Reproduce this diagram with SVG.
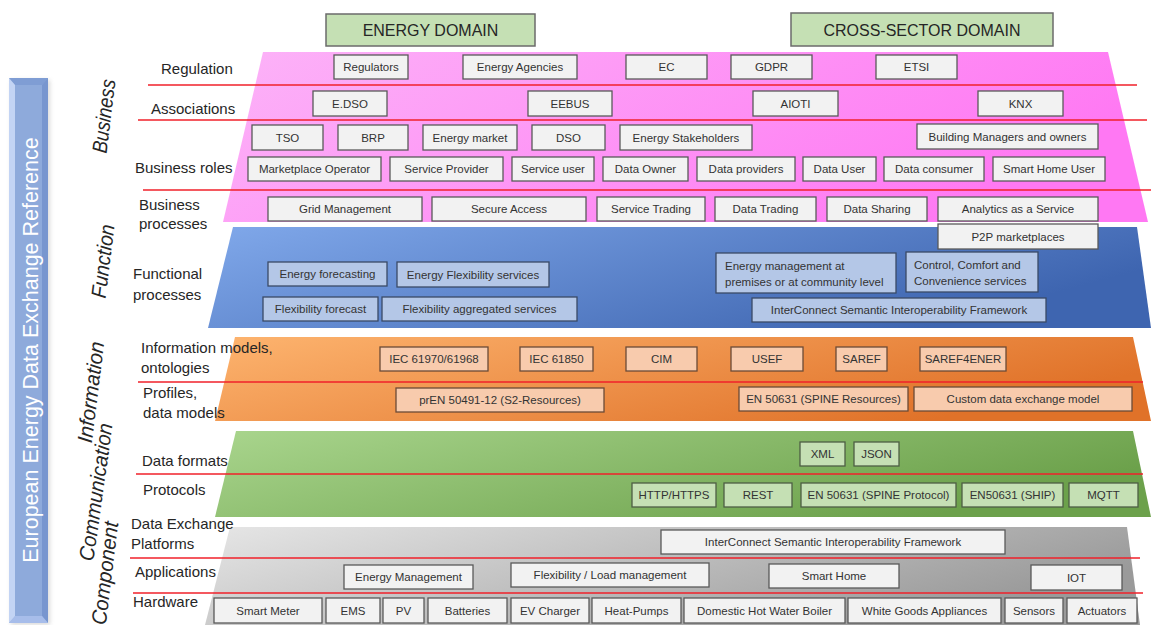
<svg xmlns="http://www.w3.org/2000/svg" width="1151" height="625" viewBox="0 0 1151 625">
  <style>
    text { font-family: "Liberation Sans", Arial, sans-serif; fill: #262626; }
    .hdr { font-size: 16px; text-anchor: middle; }
    .row { font-size: 15px; }
    .vl { font-size: 21px; font-style: italic; text-anchor: middle; }
    .bt { font-size: 11.5px; text-anchor: middle; fill: #333; }
    .btl { font-size: 11.5px; fill: #333; }
    .box rect { stroke: #595959; stroke-width: 1.3; }
    .gray rect { fill: #f2f2f2; }
    .blue rect { fill: #b4c7e7; stroke: #3a4a66; }
    .orange rect { fill: #f8cbad; stroke: #6b4a36; }
    .green rect { fill: #c5e0b4; stroke: #4d5e44; }
    .sep line { stroke: #f0202a; stroke-width: 1.6; }
  </style>
  <defs>
    <linearGradient id="gPink" x1="0" y1="0" x2="1" y2="0.3">
      <stop offset="0" stop-color="#fcb3f8"/>
      <stop offset="1" stop-color="#ff78f3"/>
    </linearGradient>
    <linearGradient id="gBlue" x1="0" y1="0" x2="1" y2="0.4">
      <stop offset="0" stop-color="#80a8ea"/>
      <stop offset="1" stop-color="#3e65b0"/>
    </linearGradient>
    <linearGradient id="gOrange" x1="0" y1="0" x2="1" y2="0.4">
      <stop offset="0" stop-color="#fdb46f"/>
      <stop offset="1" stop-color="#e07229"/>
    </linearGradient>
    <linearGradient id="gGreen" x1="0" y1="0" x2="1" y2="0.4">
      <stop offset="0" stop-color="#a9d58d"/>
      <stop offset="1" stop-color="#6ca14b"/>
    </linearGradient>
    <linearGradient id="gGray" x1="0" y1="0" x2="1" y2="0.4">
      <stop offset="0" stop-color="#e6e6e6"/>
      <stop offset="1" stop-color="#9a9a9a"/>
    </linearGradient>
    <filter id="soft" x="-20%" y="-5%" width="140%" height="110%">
      <feGaussianBlur stdDeviation="2"/>
    </filter>
  </defs>

  <!-- side title bar -->
  <g id="side-title">
    <rect x="11" y="80" width="39" height="545" fill="#999" opacity="0.35" filter="url(#soft)"/>
    <rect x="9" y="78" width="39" height="545" fill="#8eaadb"/>
    <polygon points="9,78 48,78 42,85 15,85" fill="#7f9dd4"/>
    <polygon points="48,78 48,623 42,616 42,85" fill="#7896cf"/>
    <polygon points="9,623 48,623 42,616 15,616" fill="#a7bdea"/>
    <polygon points="9,78 15,85 15,616 9,623" fill="#c3d4f4"/>
    <text transform="translate(37.5,350) rotate(-90)" text-anchor="middle" style="font-size:21.5px;fill:#ffffff">European Energy Data Exchange Reference</text>
  </g>

  <!-- domain headers -->
  <g id="energy-domain">
    <rect x="326" y="14" width="209" height="32" fill="#c5e0b4" stroke="#6b6b6b" stroke-width="1.5"/>
    <text class="hdr" x="430.5" y="36">ENERGY DOMAIN</text>
  </g>
  <g id="cross-sector-domain">
    <rect x="791" y="13" width="262" height="33" fill="#c5e0b4" stroke="#6b6b6b" stroke-width="1.5"/>
    <text class="hdr" x="922" y="36">CROSS-SECTOR DOMAIN</text>
  </g>

  <!-- layer bands -->
  <g id="bands">
    <polygon id="band-business" points="263,52 1108,52 1148,222 223,222" fill="url(#gPink)"/>
    <polygon id="band-function" points="233,227 1137,227 1151,328 208,328" fill="url(#gBlue)"/>
    <polygon id="band-information" points="235,337 1133,337 1151,421 215,421" fill="url(#gOrange)"/>
    <polygon id="band-communication" points="236,431 1133,431 1151,517 215,517" fill="url(#gGreen)"/>
    <polygon id="band-component" points="230,527 1127,527 1140,625 205,625" fill="url(#gGray)"/>
  </g>

  <!-- row separators -->
  <g id="connectors" class="sep">
    <line x1="148" y1="85" x2="1137" y2="85"/>
    <line x1="138" y1="120" x2="1147" y2="120"/>
    <line x1="143" y1="190" x2="1151" y2="190"/>
    <line x1="138" y1="382" x2="1143" y2="382"/>
    <line x1="136" y1="474" x2="1143" y2="474"/>
    <line x1="130" y1="558" x2="1140" y2="558"/>
    <line x1="133" y1="593" x2="1143" y2="593"/>
  </g>

  <!-- layer names, slightly tilted -->
  <g id="layer-names">
    <text class="vl" transform="translate(111,117) rotate(-83)" textLength="74" lengthAdjust="spacingAndGlyphs">Business</text>
    <text class="vl" transform="translate(110,262) rotate(-83)" textLength="74" lengthAdjust="spacingAndGlyphs">Function</text>
    <text class="vl" transform="translate(98,393) rotate(-83)" textLength="102" lengthAdjust="spacingAndGlyphs">Information</text>
    <text class="vl" transform="translate(103,493) rotate(-82)" textLength="139" lengthAdjust="spacingAndGlyphs">Communication</text>
    <text class="vl" transform="translate(112,574) rotate(-83)" textLength="104" lengthAdjust="spacingAndGlyphs">Component</text>
  </g>

  <!-- row names -->
  <g id="row-names" class="row">
    <text x="161" y="74">Regulation</text>
    <text x="151" y="114">Associations</text>
    <text x="135" y="173">Business roles</text>
    <text x="139" y="210">Business</text>
    <text x="139" y="229">processes</text>
    <text x="133" y="279">Functional</text>
    <text x="133" y="300">processes</text>
    <text x="141" y="353">Information models,</text>
    <text x="141" y="373">ontologies</text>
    <text x="143" y="398">Profiles,</text>
    <text x="143" y="418">data models</text>
    <text x="142" y="466">Data formats</text>
    <text x="143" y="495">Protocols</text>
    <text x="131" y="529">Data Exchange</text>
    <text x="131" y="549">Platforms</text>
    <text x="135" y="577">Applications</text>
    <text x="133" y="607">Hardware</text>
  </g>

  <!-- business layer -->
  <g class="box gray">
    <g id="regulators"><rect x="334" y="55" width="74" height="24"/><text class="bt" x="371" y="71">Regulators</text></g>
    <g id="energy-agencies"><rect x="463" y="55" width="114" height="24"/><text class="bt" x="520" y="71">Energy Agencies</text></g>
    <g id="ec"><rect x="626" y="55" width="81" height="24"/><text class="bt" x="666.5" y="71">EC</text></g>
    <g id="gdpr"><rect x="731" y="55" width="81" height="24"/><text class="bt" x="771.5" y="71">GDPR</text></g>
    <g id="etsi"><rect x="876" y="55" width="81" height="24"/><text class="bt" x="916.5" y="71">ETSI</text></g>
    <g id="edso"><rect x="313" y="91" width="74" height="25"/><text class="bt" x="350" y="107.5">E.DSO</text></g>
    <g id="eebus"><rect x="528" y="91" width="84" height="25"/><text class="bt" x="570" y="107.5">EEBUS</text></g>
    <g id="aioti"><rect x="753" y="91" width="85" height="25"/><text class="bt" x="795.5" y="107.5">AIOTI</text></g>
    <g id="knx"><rect x="978" y="91" width="85" height="25"/><text class="bt" x="1020.5" y="107.5">KNX</text></g>
    <g id="tso"><rect x="252" y="125" width="71" height="25"/><text class="bt" x="287.5" y="141.5">TSO</text></g>
    <g id="brp"><rect x="338" y="125" width="70" height="25"/><text class="bt" x="373" y="141.5">BRP</text></g>
    <g id="energy-market"><rect x="423" y="125" width="94" height="25"/><text class="bt" x="470" y="141.5">Energy market</text></g>
    <g id="dso"><rect x="532" y="125" width="73" height="25"/><text class="bt" x="568.5" y="141.5">DSO</text></g>
    <g id="energy-stakeholders"><rect x="620" y="125" width="132" height="25"/><text class="bt" x="686" y="141.5">Energy Stakeholders</text></g>
    <g id="building-managers"><rect x="917" y="124" width="181" height="25"/><text class="bt" x="1007.5" y="140.5">Building Managers and owners</text></g>
    <g id="marketplace-operator"><rect x="248" y="157" width="133" height="24"/><text class="bt" x="314.5" y="173">Marketplace Operator</text></g>
    <g id="service-provider"><rect x="390" y="157" width="113" height="24"/><text class="bt" x="446.5" y="173">Service Provider</text></g>
    <g id="service-user"><rect x="512" y="157" width="82" height="24"/><text class="bt" x="553" y="173">Service user</text></g>
    <g id="data-owner"><rect x="603" y="157" width="85" height="24"/><text class="bt" x="645.5" y="173">Data Owner</text></g>
    <g id="data-providers"><rect x="697" y="157" width="98" height="24"/><text class="bt" x="746" y="173">Data providers</text></g>
    <g id="data-user"><rect x="803" y="157" width="73" height="24"/><text class="bt" x="839.5" y="173">Data User</text></g>
    <g id="data-consumer"><rect x="884" y="157" width="100" height="24"/><text class="bt" x="934" y="173">Data consumer</text></g>
    <g id="smart-home-user"><rect x="993" y="157" width="112" height="24"/><text class="bt" x="1049" y="173">Smart Home User</text></g>
    <g id="grid-management"><rect x="268" y="197" width="154" height="24"/><text class="bt" x="345" y="213">Grid Management</text></g>
    <g id="secure-access"><rect x="432" y="197" width="154" height="24"/><text class="bt" x="509" y="213">Secure Access</text></g>
    <g id="service-trading"><rect x="597" y="197" width="108" height="24"/><text class="bt" x="651" y="213">Service Trading</text></g>
    <g id="data-trading"><rect x="715" y="197" width="101" height="24"/><text class="bt" x="765.5" y="213">Data Trading</text></g>
    <g id="data-sharing"><rect x="827" y="197" width="100" height="24"/><text class="bt" x="877" y="213">Data Sharing</text></g>
    <g id="analytics-service"><rect x="938" y="197" width="160" height="24"/><text class="bt" x="1018" y="213">Analytics as a Service</text></g>
    <g id="p2p-marketplaces"><rect x="938" y="224" width="160" height="25"/><text class="bt" x="1018" y="240.5">P2P marketplaces</text></g>
  </g>

  <!-- function layer -->
  <g class="box blue">
    <g id="energy-forecasting"><rect x="268" y="262" width="119" height="24"/><text class="bt" x="327.5" y="278">Energy forecasting</text></g>
    <g id="energy-flexibility-services"><rect x="397" y="262" width="152" height="25"/><text class="bt" x="473" y="278.5">Energy Flexibility services</text></g>
    <g id="flexibility-forecast"><rect x="263" y="297" width="115" height="24"/><text class="bt" x="320.5" y="313">Flexibility forecast</text></g>
    <g id="flexibility-aggregated"><rect x="382" y="297" width="195" height="24"/><text class="bt" x="479.5" y="313">Flexibility aggregated services</text></g>
    <g id="energy-management-premises"><rect x="716" y="253" width="180" height="40"/><text class="btl" x="725" y="270">Energy management at</text><text class="btl" x="725" y="286">premises or at community level</text></g>
    <g id="control-comfort"><rect x="906" y="252" width="132" height="40"/><text class="btl" x="914" y="269">Control, Comfort and</text><text class="btl" x="914" y="285">Convenience services</text></g>
    <g id="interconnect-function"><rect x="752" y="298" width="294" height="24"/><text class="bt" x="899" y="314">InterConnect Semantic Interoperability Framework</text></g>
  </g>

  <!-- information layer -->
  <g class="box orange">
    <g id="iec-61970"><rect x="380" y="347" width="108" height="24"/><text class="bt" x="434" y="363">IEC 61970/61968</text></g>
    <g id="iec-61850"><rect x="520" y="347" width="73" height="24"/><text class="bt" x="556.5" y="363">IEC 61850</text></g>
    <g id="cim"><rect x="626" y="347" width="71" height="24"/><text class="bt" x="661.5" y="363">CIM</text></g>
    <g id="usef"><rect x="731" y="347" width="72" height="24"/><text class="bt" x="767" y="363">USEF</text></g>
    <g id="saref"><rect x="836" y="347" width="51" height="24"/><text class="bt" x="861.5" y="363">SAREF</text></g>
    <g id="saref4ener"><rect x="920" y="347" width="86" height="24"/><text class="bt" x="963" y="363">SAREF4ENER</text></g>
    <g id="pren-50491"><rect x="396" y="388" width="208" height="24"/><text class="bt" x="500" y="404">prEN 50491-12 (S2-Resources)</text></g>
    <g id="en-50631-resources"><rect x="739" y="387" width="169" height="24"/><text class="bt" x="823.5" y="403">EN 50631 (SPINE Resources)</text></g>
    <g id="custom-model"><rect x="914" y="387" width="218" height="24"/><text class="bt" x="1023" y="403">Custom data exchange model</text></g>
  </g>

  <!-- communication layer -->
  <g class="box green">
    <g id="xml"><rect x="800" y="442" width="45" height="24"/><text class="bt" x="822.5" y="458">XML</text></g>
    <g id="json"><rect x="854" y="442" width="45" height="24"/><text class="bt" x="876.5" y="458">JSON</text></g>
    <g id="http"><rect x="632" y="483" width="84" height="24"/><text class="bt" x="674" y="499">HTTP/HTTPS</text></g>
    <g id="rest"><rect x="724" y="483" width="68" height="24"/><text class="bt" x="758" y="499">REST</text></g>
    <g id="spine-protocol"><rect x="801" y="483" width="155" height="24"/><text class="bt" x="878.5" y="499">EN 50631 (SPINE Protocol)</text></g>
    <g id="ship"><rect x="962" y="483" width="101" height="24"/><text class="bt" x="1012.5" y="499">EN50631 (SHIP)</text></g>
    <g id="mqtt"><rect x="1069" y="483" width="69" height="24"/><text class="bt" x="1103.5" y="499">MQTT</text></g>
  </g>

  <!-- component layer -->
  <g class="box gray">
    <g id="interconnect-platform"><rect x="661" y="530" width="344" height="24"/><text class="bt" x="833" y="546">InterConnect Semantic Interoperability Framework</text></g>
    <g id="energy-management-app"><rect x="344" y="565" width="129" height="24"/><text class="bt" x="408.5" y="581">Energy Management</text></g>
    <g id="flexibility-load"><rect x="511" y="563" width="198" height="24"/><text class="bt" x="610" y="579">Flexibility / Load management</text></g>
    <g id="smart-home"><rect x="769" y="564" width="130" height="24"/><text class="bt" x="834" y="580">Smart Home</text></g>
    <g id="iot"><rect x="1031" y="565" width="91" height="25"/><text class="bt" x="1076.5" y="581.5">IOT</text></g>
    <g id="smart-meter"><rect x="214" y="598" width="108" height="25"/><text class="bt" x="268" y="614.5">Smart Meter</text></g>
    <g id="ems"><rect x="326" y="598" width="54" height="25"/><text class="bt" x="353" y="614.5">EMS</text></g>
    <g id="pv"><rect x="383" y="598" width="41" height="25"/><text class="bt" x="403.5" y="614.5">PV</text></g>
    <g id="batteries"><rect x="428" y="598" width="79" height="25"/><text class="bt" x="467.5" y="614.5">Batteries</text></g>
    <g id="ev-charger"><rect x="511" y="598" width="78" height="25"/><text class="bt" x="550" y="614.5">EV Charger</text></g>
    <g id="heat-pumps"><rect x="592" y="598" width="89" height="25"/><text class="bt" x="636.5" y="614.5">Heat-Pumps</text></g>
    <g id="hot-water-boiler"><rect x="684" y="598" width="161" height="25"/><text class="bt" x="764.5" y="614.5">Domestic Hot Water Boiler</text></g>
    <g id="white-goods"><rect x="848" y="598" width="153" height="25"/><text class="bt" x="924.5" y="614.5">White Goods Appliances</text></g>
    <g id="sensors"><rect x="1005" y="598" width="58" height="25"/><text class="bt" x="1034" y="614.5">Sensors</text></g>
    <g id="actuators"><rect x="1067" y="598" width="70" height="25"/><text class="bt" x="1102" y="614.5">Actuators</text></g>
  </g>
</svg>
